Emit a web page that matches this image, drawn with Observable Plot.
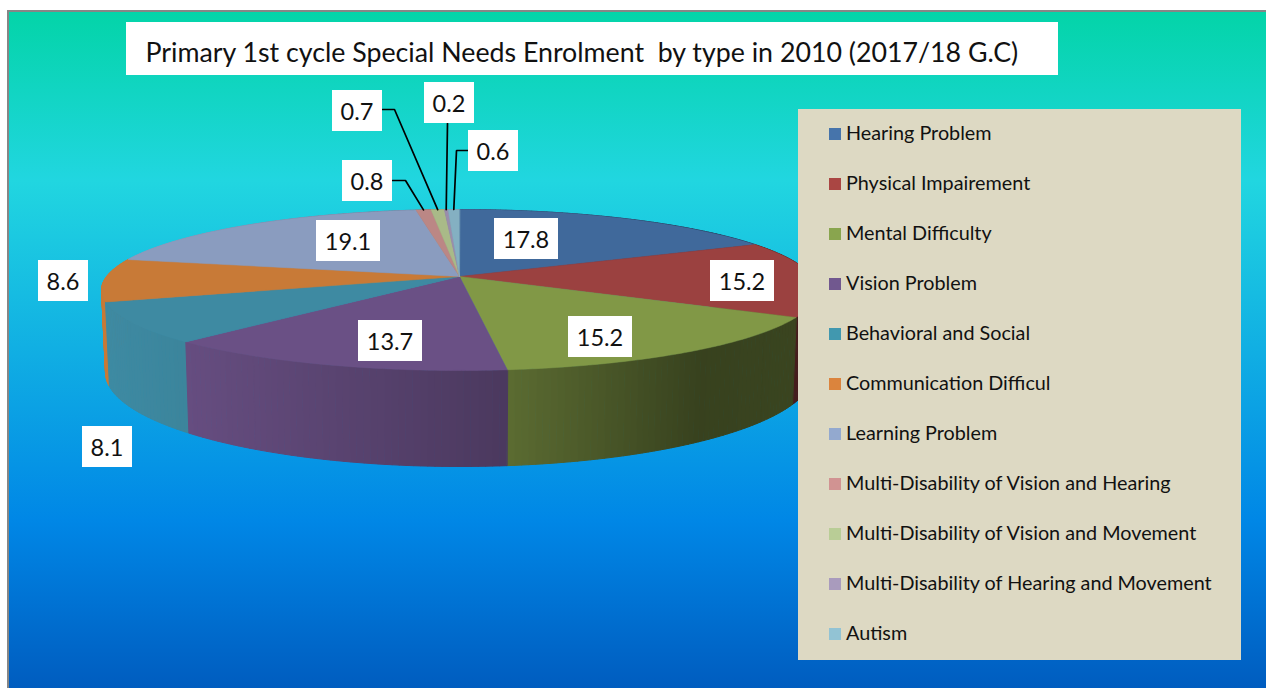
<!DOCTYPE html>
<html>
<head>
<meta charset="utf-8">
<script src="https://cdn.jsdelivr.net/npm/d3@7"></script>
<script src="https://cdn.jsdelivr.net/npm/@observablehq/plot@0.6"></script>
<style>
  html, body { margin: 0; padding: 0; background: #fff; overflow: hidden; }
  svg { display: block; }
  svg text { white-space: pre; }
</style>
</head>
<body>
<div id="chart"></div>
<script>
// ---- data ----
const titleText = "Primary 1st cycle Special Needs Enrolment  by type in 2010 (2017/18 G.C)";
const categories = [
  "Hearing Problem", "Physical Impairement", "Mental Difficulty", "Vision Problem",
  "Behavioral and Social", "Communication Difficul", "Learning Problem",
  "Multi-Disability of Vision and Hearing", "Multi-Disability of Vision and Movement",
  "Multi-Disability of Hearing and Movement", "Autism"
];
const values = [17.8, 15.2, 15.2, 13.7, 8.1, 8.6, 19.1, 0.8, 0.7, 0.2, 0.6];
const faceColors = ["#40699b", "#9b4140", "#819846", "#6a5085", "#3e8aa2", "#c87a37", "#8a9cbf", "#bb8785", "#a9ba88", "#9a8dac", "#84b0c2"];
const swatchColors = ["#4674ab", "#aa4643", "#89a54e", "#71588f", "#4198af", "#db843d", "#93a9cf", "#d19392", "#b9cd96", "#a99bbd", "#92c3d4"];

// ---- layout (pixels of the frame) ----
const W = 1266, H = 688;
const pie = {cx: 459, topCy: 289.5, rx: 358, ry: 80.5, k: 0.168, botCy: 372, botRx: 354, botRy: 94};
const labelCenters = [[526, 238.5], [742, 280.5], [600, 336.5], [390, 340.5], [107, 446.5], [63, 280.5], [348, 240.5], [367, 180.5], [357, 110.5], [449, 102.5], [493, 150.5]];
const leaders = {7: [[392, 180], [405, 180]], 8: [[382, 109], [394, 109]], 9: [[447, 123], [447, 123]], 10: [[468, 150], [456, 150]]};
const wallShade = d3.scaleLinear([105, 187, 505, 700, 800], [1, 0.96, 0.71, 0.43, 0.45]);

// ---- projection of the tilted disc ----
function unit(theta) {
  const s = Math.sin(theta), c = Math.cos(theta), d = 1 + pie.k * c;
  return [s * Math.sqrt(1 - pie.k * pie.k) / d, (c + pie.k) / d];
}
const topPoint = (theta) => { const [u, v] = unit(theta); return [pie.cx + pie.rx * u, pie.topCy - pie.ry * v]; };
const botPoint = (theta) => { const [u, v] = unit(theta); return [pie.cx + pie.botRx * u, pie.botCy - pie.botRy * v]; };
const center = [pie.cx, pie.topCy - pie.ry * pie.k];

const total = d3.sum(values);
let acc = 0;
const slices = values.map((v, i) => {
  const a = acc / total * 2 * Math.PI; acc += v;
  const b = acc / total * 2 * Math.PI;
  return {i, a, b, mid: (a + b) / 2};
});

// top faces
const faceRows = [];
for (const s of slices) {
  const n = Math.max(2, Math.ceil((s.b - s.a) / 0.01));
  const id = "f" + s.i;
  faceRows.push({x: center[0], y: center[1], z: id, c: faceColors[s.i]});
  for (let j = 0; j <= n; j++) {
    const [x, y] = topPoint(s.a + (s.b - s.a) * j / n);
    faceRows.push({x, y, z: id, c: faceColors[s.i]});
  }
}

// side walls, painted from the back to the front
const step = 1 * Math.PI / 180;
const wallRows = [];
const order = slices.slice().sort((p, q) => Math.abs(p.mid - Math.PI) < Math.abs(q.mid - Math.PI) ? 1 : -1);
for (const s of order) {
  const n = Math.max(1, Math.ceil((s.b - s.a) / step));
  for (let j = 0; j < n; j++) {
    const t0 = s.a + (s.b - s.a) * j / n, t1 = s.a + (s.b - s.a) * (j + 1) / n;
    const p = [topPoint(t0), topPoint(t1), botPoint(t1), botPoint(t0)];
    const shade = wallShade((p[0][0] + p[1][0]) / 2);
    const col = d3.rgb(faceColors[s.i]);
    const c = d3.rgb(col.r * shade, col.g * shade, col.b * shade).formatHex();
    const id = `w${s.i}-${j}`;
    p.forEach(([x, y]) => wallRows.push({x, y, z: id, c}));
  }
}

// leader lines for the small slices
const leaderRows = [];
for (const [key, pts] of Object.entries(leaders)) {
  const [x, y] = topPoint(slices[+key].mid);
  [...pts, [x, y]].forEach(([px, py]) => leaderRows.push({x: px, y: py, z: key}));
}

const labelRows = values.map((v, i) => ({
  t: v.toFixed(1), x: labelCenters[i][0], y: labelCenters[i][1],
  w: v >= 10 ? 64 : 50
}));
const legendRows = categories.map((name, i) => ({name, c: swatchColors[i], y: 134 + 50 * i}));

const defs = () => {
  const d = d3.create("svg:defs");
  const g = d.append("linearGradient").attr("id", "ocean").attr("x1", 0).attr("x2", 0).attr("y1", 0).attr("y2", 1);
  [[0, "#03d4a8"], [0.25, "#21d6e0"], [0.75, "#0087e6"], [1, "#005cbf"]].forEach(([o, c]) =>
    g.append("stop").attr("offset", o).attr("stop-color", c));
  return d.node();
};

const font = "Lato, 'Open Sans', sans-serif";
const chart = Plot.plot({
  width: W, height: H, margin: 0,
  x: {domain: [0, W], range: [0, W], axis: null},
  y: {domain: [0, H], range: [0, H], axis: null},
  color: {type: "identity"},
  style: {background: "transparent"},
  marks: [
    defs,
    // frame
    Plot.rect([{}], {x1: () => 8, x2: () => W + 4, y1: () => 11, y2: () => 690, fill: "url(#ocean)", stroke: "#868686", strokeWidth: 2}),
    // pie
    Plot.line(wallRows, {x: "x", y: "y", z: "z", fill: "c", stroke: "c", strokeWidth: 1, curve: "linear-closed"}),
    Plot.line(faceRows, {x: "x", y: "y", z: "z", fill: "c", stroke: "c", strokeWidth: 0.5, curve: "linear-closed"}),
    // leader lines
    Plot.line(leaderRows, {x: "x", y: "y", z: "z", stroke: "#000", strokeWidth: 1.7, strokeLinejoin: "miter"}),
    // title
    Plot.rect([{}], {x1: () => 126, x2: () => 1058, y1: () => 22, y2: () => 75, fill: "#fff"}),
    Plot.text([titleText], {x: () => 145, y: () => 52.5, text: (d) => d, textAnchor: "start", lineAnchor: "middle", fontFamily: font, fontSize: 26.75, fill: "#111"}),
    // data labels
    Plot.rect(labelRows, {x1: (d) => d.x - d.w / 2, x2: (d) => d.x + d.w / 2, y1: (d) => d.y - 20.5, y2: (d) => d.y + 20.5, fill: "#fff"}),
    Plot.text(labelRows, {x: (d) => d.x - 0.5, y: (d) => d.y + 1, text: "t", textAnchor: "middle", lineAnchor: "middle", fontFamily: font, fontSize: 23.5, fill: "#111"}),
    // legend
    Plot.rect([{}], {x1: () => 798, x2: () => 1241, y1: () => 109, y2: () => 660, fill: "#ddd9c3"}),
    Plot.rect(legendRows, {x1: () => 829, x2: () => 841, y1: (d) => d.y - 6, y2: (d) => d.y + 6, fill: "c"}),
    Plot.text(legendRows, {x: () => 845.5, y: (d) => d.y - 0.8, text: "name", textAnchor: "start", lineAnchor: "middle", fontFamily: font, fontSize: 19.8, fill: "#111"})
  ]
});
document.getElementById("chart").appendChild(chart);
</script>
</body>
</html>
